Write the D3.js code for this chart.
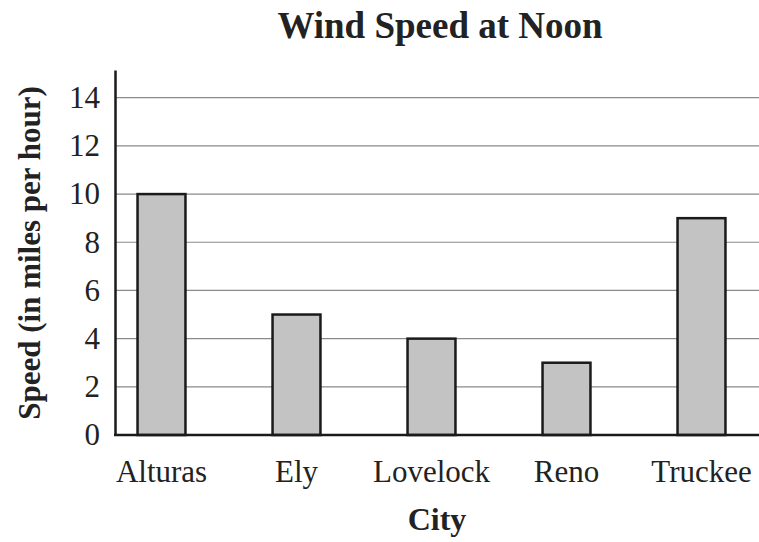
<!DOCTYPE html>
<html>
<head>
<meta charset="utf-8">
<script src="https://cdn.jsdelivr.net/npm/d3@7"></script>
<style>
  body { margin: 0; background: #fff; }
  svg { display: block; font-family: "Liberation Serif", "DejaVu Serif", serif; }
</style>
</head>
<body>
<div id="chart"></div>
<script>
const width = 759;
const height = 542;

const cities = ['Alturas', 'Ely', 'Lovelock', 'Reno', 'Truckee'];
const speeds = [10, 5, 4, 3, 9];
const yTicks = [0, 2, 4, 6, 8, 10, 12, 14];

const svg = d3.select('#chart').append('svg')
    .attr('width', width)
    .attr('height', height);

const x = d3.scaleBand()
    .domain(cities)
    .range([94, 769])
    .paddingInner(0.645)
    .paddingOuter(0.3225);

const y = d3.scaleLinear()
    .domain([0, 15.15])
    .range([435, 70]);

// grid lines
svg.append('g')
  .selectAll('line')
  .data(yTicks.filter(d => d > 0))
  .join('line')
    .attr('x1', 115)
    .attr('x2', width)
    .attr('y1', d => y(d))
    .attr('y2', d => y(d))
    .attr('stroke', '#8a8a8a')
    .attr('stroke-width', 1.2);

// bars
svg.append('g')
  .selectAll('rect')
  .data(cities.map((c, i) => ({city: c, speed: speeds[i]})))
  .join('rect')
    .attr('x', d => x(d.city))
    .attr('y', d => y(d.speed))
    .attr('width', x.bandwidth())
    .attr('height', d => y(0) - y(d.speed))
    .attr('fill', '#c3c3c3')
    .attr('stroke', '#1a1a1a')
    .attr('stroke-width', 2.5);

// y axis
const yAxis = svg.append('g')
    .attr('transform', 'translate(115,0)')
    .call(d3.axisLeft(y).tickValues(yTicks).tickSize(0).tickPadding(15));
yAxis.select('.domain').attr('stroke', '#1a1a1a').attr('stroke-width', 2.5);
yAxis.selectAll('text')
    .attr('font-family', '"Liberation Serif", serif')
    .attr('font-size', 31)
    .attr('fill', '#222');

// x axis
const xAxis = svg.append('g')
    .attr('transform', 'translate(0,435)')
    .call(d3.axisBottom(x).tickSize(0).tickPadding(25));
xAxis.select('.domain').remove();
xAxis.selectAll('text')
    .attr('font-family', '"Liberation Serif", serif')
    .attr('font-size', 31)
    .attr('fill', '#222');
svg.append('line')
    .attr('x1', 114)
    .attr('x2', width)
    .attr('y1', 435)
    .attr('y2', 435)
    .attr('stroke', '#1a1a1a')
    .attr('stroke-width', 2.5);

// titles
svg.append('text')
    .attr('x', 440)
    .attr('y', 38)
    .attr('text-anchor', 'middle')
    .attr('font-weight', 'bold')
    .attr('font-size', 37)
    .attr('fill', '#222')
    .text('Wind Speed at Noon');

svg.append('text')
    .attr('x', 437)
    .attr('y', 530)
    .attr('text-anchor', 'middle')
    .attr('font-weight', 'bold')
    .attr('font-size', 32)
    .attr('fill', '#222')
    .text('City');

svg.append('text')
    .attr('transform', 'translate(40,253) rotate(-90)')
    .attr('text-anchor', 'middle')
    .attr('font-weight', 'bold')
    .attr('font-size', 31)
    .attr('fill', '#222')
    .text('Speed (in miles per hour)');
</script>
</body>
</html>
